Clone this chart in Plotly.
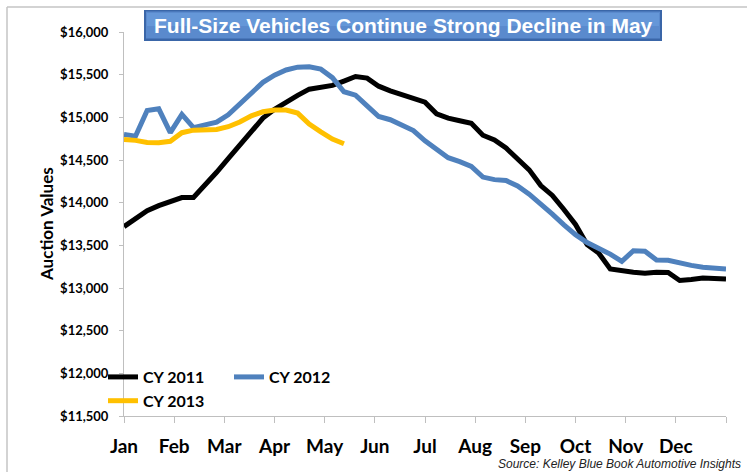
import plotly.graph_objects as go

# ---------------- data ----------------
months = ["Jan", "Feb", "Mar", "Apr", "May", "Jun", "Jul", "Aug", "Sep", "Oct", "Nov", "Dec", ""]
weeks_per_year = 52

cy2011 = [13720, 13810, 13905, 13965, 14015, 14060, 14060, 14200, 14356, 14515,
          14674, 14833, 14991, 15095, 15180, 15257, 15330, 15350, 15374, 15425,
          15478, 15460, 15365, 15310, 15262, 15228, 15178, 15042, 14990, 14960,
          14930, 14790, 14735, 14640, 14520, 14385, 14200, 14085, 13920, 13745,
          13510, 13410, 13223, 13197, 13185, 13172, 13185, 13182, 13088, 13100,
          13117, 13112, 13106]
cy2012 = [14800, 14780, 15080, 15100, 14820, 15035, 14880, 14915, 14944, 15030,
          15157, 15285, 15410, 15495, 15555, 15588, 15592, 15565, 15465, 15300,
          15260, 15135, 15010, 14972, 14914, 14845, 14725, 14620, 14527, 14480,
          14425, 14300, 14270, 14260, 14195, 14100, 13990, 13865, 13740, 13625,
          13532, 13465, 13397, 13312, 13437, 13430, 13329, 13325, 13290, 13265,
          13243, 13232, 13223]
cy2013 = [14740, 14730, 14705, 14703, 14720, 14820, 14850, 14852, 14858, 14890,
          14945, 15018, 15065, 15085, 15085, 15050, 14922, 14830, 14745, 14690]

series_names = ["CY 2011", "CY 2012", "CY 2013"]
series_colors = ["#000000", "#4F81BD", "#FFC000"]

title_text = "Full-Size Vehicles Continue Strong Decline in May"
y_title = "Auction Values"
source_text = "Source: Kelley Blue Book Automotive Insights"

# ---------------- layout geometry ----------------
W, H = 747, 472
L, R, T, B = 124, 21, 32, 56
PW, PH = W - L - R, H - T - B


def px_x(px):
    return (px - L) / PW


def px_y(py):
    return (H - B - py) / PH


CAL = "Lato, 'Noto Sans', sans-serif"
ARIAL = "'Liberation Sans', Arial, sans-serif"

fig = go.Figure()
legend_map = ["legend", "legend2", "legend"]
for name, vals, col, lg in zip(series_names, [cy2011, cy2012, cy2013], series_colors, legend_map):
    fig.add_trace(go.Scatter(
        x=list(range(len(vals))), y=vals, mode="lines", name=name,
        line=dict(color=col, width=5), legend=lg,
    ))

tickvals = [k * weeks_per_year / 12 for k in range(13)]

shapes = []
# outer frame (top and left)
shapes.append(dict(type="line", xref="paper", yref="paper",
                   x0=px_x(7), x1=px_x(760), y0=px_y(7), y1=px_y(7),
                   line=dict(color="#C4C4C4", width=1.5)))
shapes.append(dict(type="line", xref="paper", yref="paper",
                   x0=px_x(7), x1=px_x(7), y0=px_y(7), y1=px_y(490),
                   line=dict(color="#C4C4C4", width=1.5)))
# title box (shadow / fill / highlight)
shapes.append(dict(type="rect", xref="paper", yref="paper",
                   x0=px_x(144), x1=px_x(662), y0=px_y(41), y1=px_y(10),
                   fillcolor="#3A66A8", line=dict(width=0), layer="above"))
shapes.append(dict(type="rect", xref="paper", yref="paper",
                   x0=px_x(146), x1=px_x(660), y0=px_y(38.5), y1=px_y(11.5),
                   fillcolor="#5A8ACD", line=dict(width=0), layer="above"))
shapes.append(dict(type="rect", xref="paper", yref="paper",
                   x0=px_x(147), x1=px_x(659), y0=px_y(26), y1=px_y(13),
                   fillcolor="#6597D8", line=dict(width=0), layer="above"))

annotations = [
    dict(text=title_text, xref="paper", yref="paper", x=px_x(403), y=px_y(25.5),
         xanchor="center", yanchor="middle", showarrow=False,
         font=dict(family=ARIAL, size=21, color="white", weight="bold")),
    dict(text=y_title, xref="paper", yref="paper", x=px_x(46), y=px_y(224),
         xanchor="center", yanchor="middle", showarrow=False, textangle=-90,
         font=dict(family=CAL, size=17, color="black", weight="bold")),
    dict(text=source_text, xref="paper", yref="paper", x=px_x(743), y=px_y(464),
         xanchor="right", yanchor="middle", showarrow=False,
         font=dict(family=ARIAL, size=12, color="#222222", style="italic")),
]

leg_font = dict(family=CAL, size=16, color="black", weight="bold")
fig.update_layout(
    width=W, height=H,
    margin=dict(l=L, r=R, t=T, b=B, autoexpand=False),
    paper_bgcolor="white", plot_bgcolor="white",
    showlegend=True,
    legend=dict(x=px_x(103), y=px_y(360), xanchor="left", yanchor="top",
                bgcolor="rgba(0,0,0,0)", font=leg_font, tracegroupgap=0,
                itemwidth=30),
    legend2=dict(x=px_x(229), y=px_y(360), xanchor="left", yanchor="top",
                 bgcolor="rgba(0,0,0,0)", font=leg_font, itemwidth=30),
    xaxis=dict(range=[0, weeks_per_year], tickmode="array", tickvals=tickvals,
               ticktext=months, showgrid=False, zeroline=False,
               showline=True, linecolor="#BFBFBF", linewidth=1,
               ticks="outside", ticklen=6, tickcolor="#BFBFBF",
               tickfont=dict(family=CAL, size=19, color="black", weight="bold"),
               ticklabelstandoff=7, fixedrange=True),
    yaxis=dict(range=[11500, 16000], dtick=500, tickformat="$,.0f",
               showgrid=False, zeroline=False,
               showline=True, linecolor="#BFBFBF", linewidth=1,
               ticks="outside", ticklen=4, tickcolor="#BFBFBF",
               tickfont=dict(family=CAL, size=13, color="black", weight="bold"),
               ticklabelstandoff=8, fixedrange=True),
    shapes=shapes,
    annotations=annotations,
)

fig.write_html("out.html", config={"displayModeBar": False},
               post_script="document.body.style.margin='0';document.body.style.overflow='hidden';")
